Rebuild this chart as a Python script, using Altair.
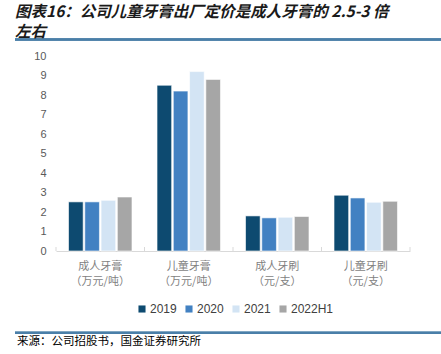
import altair as alt
import pandas as pd

categories = ["成人牙膏\n（万元/吨）", "儿童牙膏\n（万元/吨）", "成人牙刷\n（元/支）", "儿童牙刷\n（元/支）"]
years = ["2019", "2020", "2021", "2022H1"]
v2019 = [2.52, 8.50, 1.80, 2.86]
v2020 = [2.52, 8.20, 1.70, 2.72]
v2021 = [2.60, 9.20, 1.73, 2.50]
v2022h1 = [2.77, 8.80, 1.77, 2.55]
colors = ["#0D4A70", "#4281C2", "#D3E4F4", "#A6A6A6"]
title_line1 = "图表16：公司儿童牙膏出厂定价是成人牙膏的 2.5-3 倍"
title_line2 = "左右"
source_text = "来源：公司招股书，国金证券研究所"

series = [v2019, v2020, v2021, v2022h1]
rows = []
for yi, yr in enumerate(years):
    for ci, cat in enumerate(categories):
        rows.append({"cat": cat, "year": yr, "value": series[yi][ci]})
df = pd.DataFrame(rows)
cat_df = pd.DataFrame({"cat": categories})

W, H = 354, 195
FONT = "Noto Sans CJK SC"

x_enc = alt.X(
    "cat:N", sort=categories, title=None,
    scale=alt.Scale(paddingInner=0, paddingOuter=0),
    axis=alt.Axis(labelAngle=0, labelExpr="split(datum.label, '\\n')",
                  labelColor="#7F7F7F", labelFont=FONT, labelFontSize=11,
                  labelLineHeight=15, labelPadding=9, ticks=False,
                  domainColor="#D9D9D9", domainWidth=1),
)

bars = alt.Chart(df).mark_bar(stroke="white", strokeWidth=0.6).encode(
    x=x_enc,
    xOffset=alt.XOffset("year:N", sort=years,
                        scale=alt.Scale(paddingInner=0.1, paddingOuter=0.77)),
    y=alt.Y("value:Q", title=None,
            scale=alt.Scale(domain=[0, 10]),
            axis=alt.Axis(values=list(range(0, 11)), grid=False, ticks=False,
                          domain=False, labelColor="#595959", labelFontSize=11,
                          labelFont="Liberation Sans", labelPadding=10)),
    color=alt.Color("year:N", sort=years,
                    scale=alt.Scale(domain=years, range=colors),
                    legend=alt.Legend(title=None, orient="none", direction="horizontal",
                                      legendX=80, legendY=247, symbolType="square",
                                      symbolSize=50, symbolStrokeWidth=0,
                                      labelFontSize=12, labelFont="Liberation Sans",
                                      labelColor="#404040", labelOffset=2,
                                      columnPadding=6)),
)

ticks = alt.Chart(cat_df).mark_rule(color="#D9D9D9", strokeWidth=1).encode(
    x=alt.X("cat:N", sort=categories, bandPosition=0),
    y=alt.value(H), y2=alt.value(H - 4),
)
ticks_last = alt.Chart(cat_df).transform_filter(
    alt.datum.cat == categories[-1]
).mark_rule(color="#D9D9D9", strokeWidth=1).encode(
    x=alt.X("cat:N", sort=categories, bandPosition=1),
    y=alt.value(H), y2=alt.value(H - 4),
)

def text_layer(txt, x, y, size, weight="normal", style="normal", color="#000000"):
    return alt.Chart(pd.DataFrame({"t": [txt]})).mark_text(
        align="left", baseline="middle", font=FONT, fontSize=size,
        fontWeight=weight, fontStyle=style, color=color,
    ).encode(text="t:N", x=alt.value(x), y=alt.value(y))

t1 = text_layer(title_line1, -41, -44, 15.5, "bold", "italic", "#1A1A1A")
t2 = text_layer(title_line2, -41, -24, 15.5, "bold", "italic", "#1A1A1A")
src = text_layer(source_text, -39, 285.5, 11.5, "normal", "normal", "#000000")

rule_top = alt.Chart(cat_df).mark_rule(color="#4A7FA8", strokeWidth=2).encode(
    x=alt.value(-41), x2=alt.value(385), y=alt.value(-16.5)
)
rule_bot = alt.Chart(cat_df).mark_rule(color="#4A7FA8", strokeWidth=2).encode(
    x=alt.value(-41), x2=alt.value(385), y=alt.value(276.7)
)

chart = alt.layer(bars, ticks, ticks_last, rule_top, rule_bot, t1, t2, src).properties(
    width=W, height=H,
    autosize=alt.AutoSizeParams(type="none"),
    padding={"left": 56, "top": 56, "right": 31, "bottom": 103},
).configure_view(stroke=None)

chart.save("out.html", embed_options={"renderer": "svg", "actions": False})
